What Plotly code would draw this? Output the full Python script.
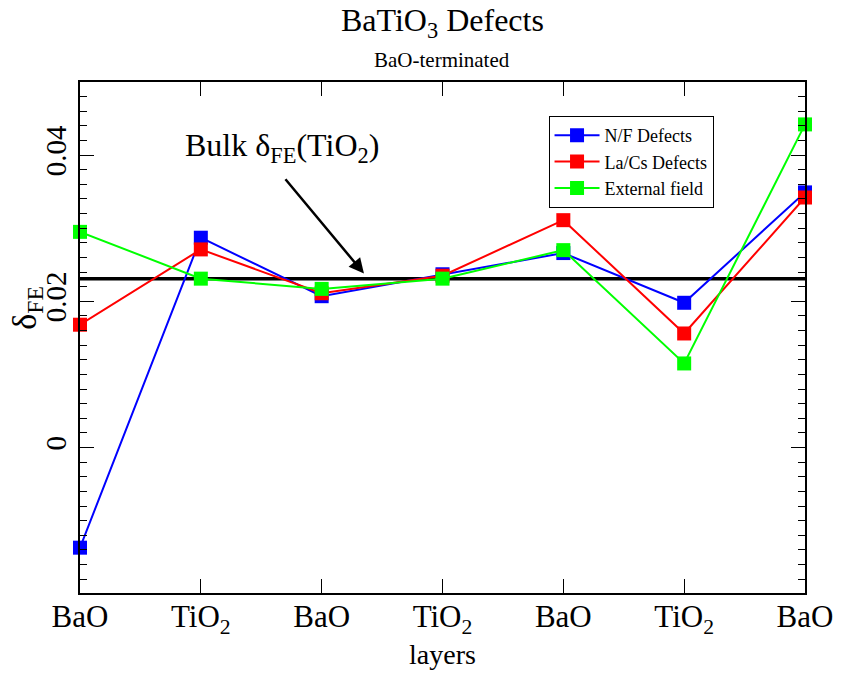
import plotly.graph_objects as go

layers = ["BaO", "TiO<sub>2</sub>", "BaO", "TiO<sub>2</sub>", "BaO", "TiO<sub>2</sub>", "BaO"]
x_pos = [0, 1, 2, 3, 4, 5, 6]

nf_defects = [-0.0137, 0.0287, 0.0207, 0.0237, 0.0266, 0.0198, 0.0349]
lacs_defects = [0.0168, 0.0271, 0.0211, 0.0235, 0.0311, 0.0156, 0.0342]
external_field = [0.0295, 0.0231, 0.0217, 0.0231, 0.0270, 0.0115, 0.0442]
bulk_value = 0.0231

series = [
    ("N/F Defects", nf_defects, "#0000ff"),
    ("La/Cs Defects", lacs_defects, "#ff0000"),
    ("External field", external_field, "#00ff00"),
]

FONT = "Liberation Serif"
T, B, L, R = 82, 82, 80, 30
plot_h = 675 - T - B
plot_w = 845 - L - R

def py(px):
    return (675 - B - px) / plot_h

def pxx(px):
    return (px - L) / plot_w

fig = go.Figure()
fig.add_hline(y=bulk_value, line=dict(color="black", width=3.5), layer="below")
for name, vals, col in series:
    fig.add_trace(go.Scatter(
        x=x_pos, y=vals, name=name, mode="lines+markers",
        line=dict(color=col, width=2),
        marker=dict(symbol="square", size=14, color=col),
        cliponaxis=False,
    ))

fig.update_layout(
    width=845, height=675,
    margin=dict(l=L, r=R, t=T, b=B),
    paper_bgcolor="white", plot_bgcolor="white",
    font=dict(family=FONT, color="black"),
    showlegend=True,
    legend=dict(
        x=pxx(555), y=py(116), xanchor="left", yanchor="top",
        bgcolor="white", bordercolor="black", borderwidth=1,
        font=dict(size=18, family=FONT), tracegroupgap=0,
        itemwidth=45,
    ),
    xaxis=dict(
        range=[0, 6], tickvals=x_pos, ticktext=layers,
        ticks="inside", ticklen=14, tickwidth=1, tickcolor="black",
        showline=True, linecolor="black", linewidth=2, mirror="ticks",
        showgrid=False, zeroline=False, ticklabelstandoff=-5,
        tickfont=dict(size=31, family=FONT),
        title=dict(text="layers", font=dict(size=28, family=FONT), standoff=4),
    ),
    yaxis=dict(
        range=[-0.0199, 0.050], tickvals=[0, 0.02, 0.04], ticktext=["0", "0.02", "0.04"],
        ticks="inside", ticklen=14, tickwidth=1, tickcolor="black",
        minor=dict(dtick=0.002, tick0=0, ticks="inside", ticklen=7, tickcolor="black", showgrid=False),
        showline=True, linecolor="black", linewidth=2, mirror="ticks",
        showgrid=False, zeroline=False, tickangle=-90,
        tickfont=dict(size=29, family=FONT),
    ),
    annotations=[
        dict(text="BaTiO<sub>3</sub> Defects", x=pxx(448), y=py(22), xref="paper", yref="paper",
             xanchor="center", yanchor="middle", showarrow=False, font=dict(size=32, family=FONT)),
        dict(text="BaO-terminated", x=pxx(447), y=py(60), xref="paper", yref="paper",
             xanchor="center", yanchor="middle", showarrow=False, font=dict(size=21, family=FONT)),
        dict(text="δ<sub>FE</sub>", x=pxx(26), y=py(308), xref="paper", yref="paper",
             xanchor="center", yanchor="middle", textangle=-90, showarrow=False,
             font=dict(size=34, family=FONT)),
    ],
)

fig.add_annotation(
    text="Bulk δ<sub>FE</sub>(TiO<sub>2</sub>)", x=1.67, y=0.0410, xref="x", yref="y",
    showarrow=False, font=dict(size=32, family=FONT),
)
fig.add_annotation(
    x=2.35, y=0.0238, xref="x", yref="y", ax=1.69, ay=0.0369, axref="x", ayref="y",
    showarrow=True, arrowhead=2, arrowsize=1.2, arrowwidth=2.5, arrowcolor="black", text="",
)

fig.write_html("out.html")
